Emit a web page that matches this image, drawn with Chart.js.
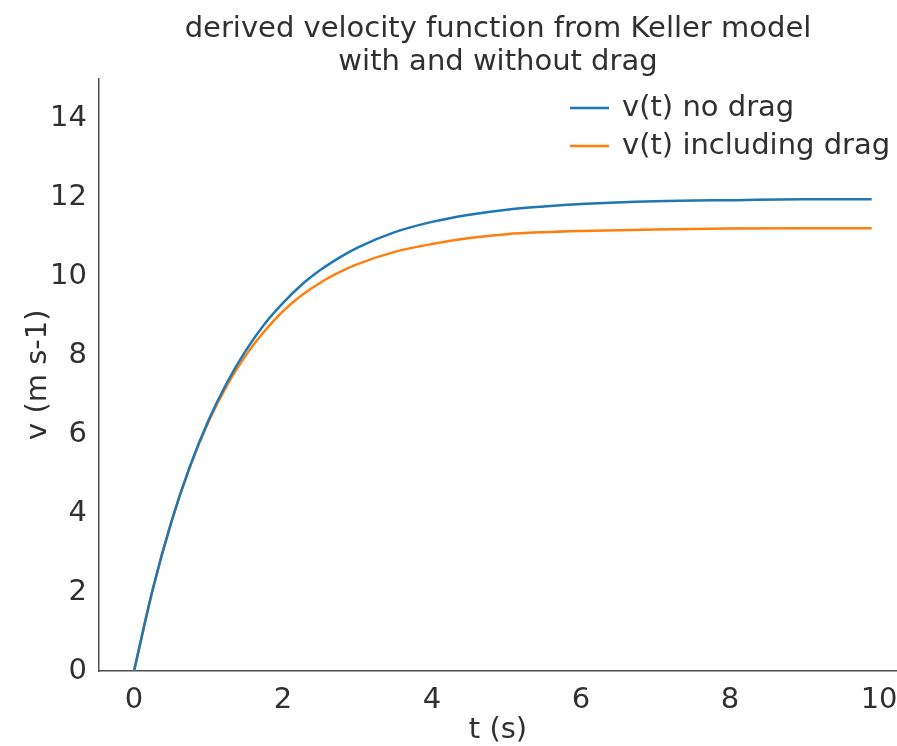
<!DOCTYPE html>
<html>
<head>
<meta charset="utf-8">
<script src="https://cdn.jsdelivr.net/npm/chart.js@4"></script>
<style>
  html, body { margin: 0; padding: 0; background: #fff; }
  #wrap { width: 897px; height: 746px; }
</style>
</head>
<body>
<div id="wrap"><canvas id="velChart"></canvas></div>
<script>
// time samples (s)
const tValues = [0, 0.25, 0.5, 0.75, 1.0, 1.25, 1.5, 1.75, 2.0, 2.25, 2.5, 2.75, 3.0, 3.5, 4.0, 4.5, 5.0, 5.5, 6.0, 7.0, 8.0, 9.0, 9.9];
// v(t) without drag (m/s)
const vNoDrag = [0, 2.06, 3.77, 5.18, 6.35, 7.31, 8.11, 8.78, 9.32, 9.78, 10.15, 10.46, 10.72, 11.11, 11.37, 11.55, 11.68, 11.76, 11.82, 11.89, 11.92, 11.94, 11.94];
// v(t) with drag (m/s)
const vDrag = [0, 2.05, 3.76, 5.16, 6.31, 7.24, 7.99, 8.60, 9.11, 9.51, 9.83, 10.09, 10.30, 10.61, 10.81, 10.96, 11.06, 11.11, 11.14, 11.18, 11.20, 11.21, 11.21];
const seriesLabels = ['v(t) no drag', 'v(t) including drag'];
const xTicks = [0, 2, 4, 6, 8, 10];
const yTicks = [0, 2, 4, 6, 8, 10, 12, 14];

const textColor = '#303030';
const font = 'DejaVu Sans';

const toPoints = (ys) => tValues.map((t, i) => ({ x: t, y: ys[i] }));

// legend drawn inside the plot, top right, no frame
const innerLegend = {
    id: 'innerLegend',
    afterDraw(chart) {
        const ctx = chart.ctx;
        ctx.save();
        ctx.font = '29px "' + font + '"';
        ctx.textBaseline = 'middle';
        ctx.textAlign = 'left';
        chart.data.datasets.forEach((ds, i) => {
            const y = 108 + i * 38;
            ctx.strokeStyle = ds.borderColor;
            ctx.lineWidth = 2.5;
            ctx.beginPath();
            ctx.moveTo(570, y);
            ctx.lineTo(609, y);
            ctx.stroke();
            ctx.fillStyle = textColor;
            ctx.fillText(ds.label, 622, y);
        });
        ctx.restore();
    }
};

const ctx = document.getElementById('velChart').getContext('2d');
new Chart(ctx, {
    type: 'line',
    data: {
        datasets: [
            {
                label: seriesLabels[0],
                data: toPoints(vNoDrag),
                borderColor: '#1f77b4',
                borderWidth: 2.5,
                pointRadius: 0,
                cubicInterpolationMode: 'monotone'
            },
            {
                label: seriesLabels[1],
                data: toPoints(vDrag),
                borderColor: '#ff7f0e',
                borderWidth: 2.5,
                pointRadius: 0,
                cubicInterpolationMode: 'monotone'
            }
        ]
    },
    options: {
        responsive: true,
        maintainAspectRatio: false,
        animation: false,
        layout: { padding: 0 },
        plugins: {
            legend: { display: false },
            tooltip: { enabled: false },
            title: {
                display: true,
                fullSize: false,
                text: ['derived velocity function from Keller model', 'with and without drag'],
                color: textColor,
                font: { family: font, size: 29, weight: 'normal', lineHeight: 1.138 },
                padding: { top: 12.5, bottom: 0 }
            }
        },
        scales: {
            x: {
                type: 'linear',
                min: -0.47,
                max: 10.24,
                afterBuildTicks: (s) => { s.ticks = xTicks.map(v => ({ value: v })); },
                afterFit: (s) => { s.height = 75; s.paddingLeft = 0; s.paddingRight = 0; },
                grid: { display: true, drawOnChartArea: false, drawTicks: false },
                border: { display: true, color: '#4d4d4d', width: 1.5 },
                ticks: { color: textColor, font: { family: font, size: 29 }, padding: 12, maxRotation: 0 },
                title: {
                    display: true,
                    text: 't (s)',
                    color: textColor,
                    font: { family: font, size: 29, lineHeight: 1.0 },
                    padding: { top: 0, bottom: 1 }
                }
            },
            y: {
                type: 'linear',
                min: 0,
                max: 15,
                afterBuildTicks: (s) => { s.ticks = yTicks.map(v => ({ value: v })); },
                afterFit: (s) => { s.width = 99; },
                grid: { display: true, drawOnChartArea: false, drawTicks: false },
                border: { display: true, color: '#4d4d4d', width: 1.5 },
                ticks: { color: textColor, font: { family: font, size: 29 }, padding: 12 },
                title: {
                    display: true,
                    text: 'v (m s-1)',
                    color: textColor,
                    font: { family: font, size: 29, lineHeight: 1.2 },
                    padding: { top: 21, bottom: 0 }
                }
            }
        }
    },
    plugins: [innerLegend]
});
</script>
</body>
</html>
